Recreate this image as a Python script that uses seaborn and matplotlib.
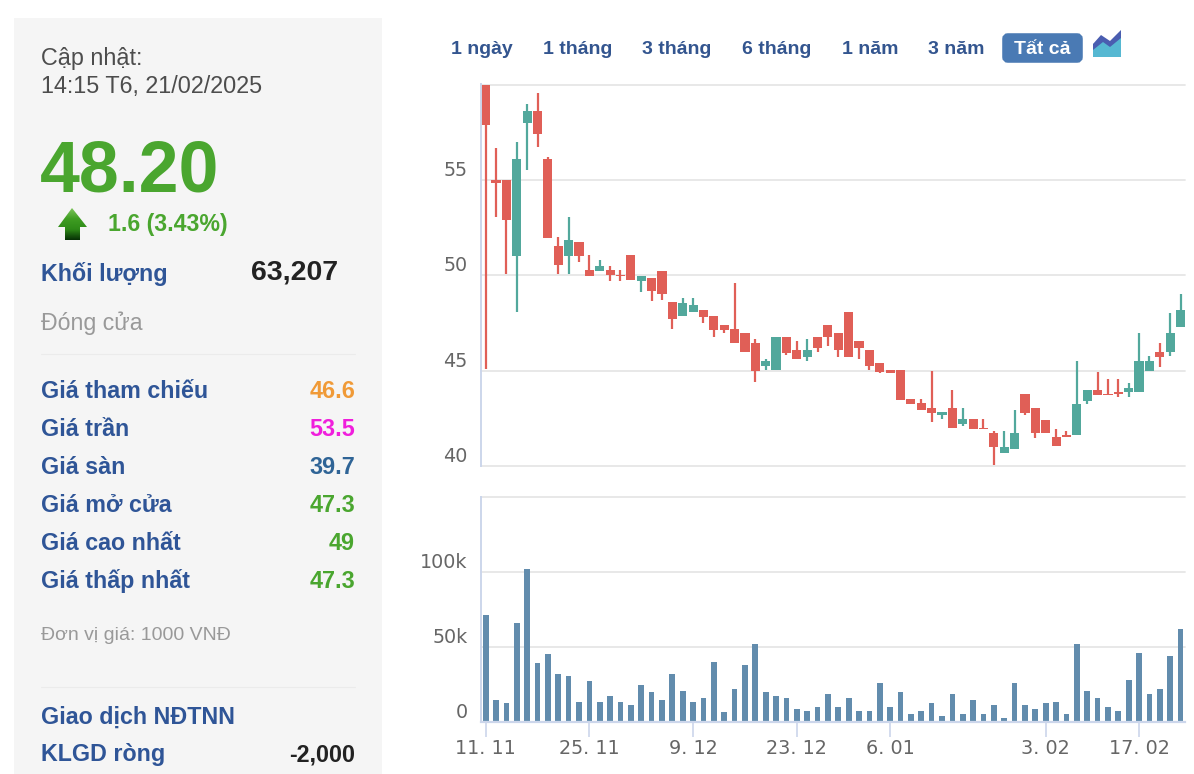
import numpy as np
import pandas as pd
import matplotlib
matplotlib.use("Agg")
import matplotlib.pyplot as plt
from matplotlib.patches import Rectangle, FancyBboxPatch, Polygon
import seaborn as sns

# ---------- data ----------
opens = [60.0, 55.0, 55.0, 51.03, 58.0, 58.6, 56.1, 51.55, 51.03, 51.73, 50.3, 50.25, 50.3, 50.03, 51.05, 49.7, 49.85,
         50.2, 48.62, 47.88, 48.08, 48.16, 47.87, 47.4, 47.2, 47.0, 46.45, 45.26, 45.05, 46.75, 46.08, 45.7, 46.75,
         47.4, 47.0, 48.08, 46.55, 46.08, 45.42, 45.05, 45.05, 43.5, 43.32, 43.04, 42.67, 43.04, 42.2, 42.48, 41.99,
         41.73, 40.7, 40.87, 43.8, 43.04, 42.4, 41.54, 41.63, 41.63, 43.43, 44.0, 43.8, 43.9, 43.9, 43.9, 45.0,
         45.96, 45.98, 47.3]
closes = [57.9, 54.85, 52.9, 56.1, 58.6, 57.4, 51.95, 50.55, 51.83, 51.0, 49.97, 50.5, 50.0, 49.97, 49.77, 49.95, 49.2,
          49.0, 47.7, 48.55, 48.43, 47.8, 47.13, 47.13, 46.47, 46.0, 44.97, 45.5, 46.75, 45.9, 45.6, 46.08, 46.2,
          46.75, 46.08, 45.7, 46.2, 45.25, 44.95, 44.86, 43.44, 43.23, 42.95, 42.76, 42.85, 42.0, 42.48, 41.92, 41.92,
          40.98, 40.98, 41.73, 42.76, 41.73, 41.73, 41.07, 41.54, 43.23, 44.0, 43.7, 43.7, 43.8, 44.1, 45.5, 45.5,
          45.7, 47.0, 48.2]
highs = [60.0, 56.7, 55.0, 57.0, 59.0, 59.55, 56.2, 52.0, 53.05, 51.73, 51.05, 50.8, 50.5, 50.3, 51.05, 49.95, 49.85,
         50.2, 48.62, 48.8, 48.8, 48.16, 47.87, 47.4, 49.58, 47.0, 46.65, 45.6, 46.75, 46.75, 46.55, 46.65, 46.75,
         47.4, 47.0, 48.08, 46.55, 46.08, 45.42, 45.05, 45.05, 43.5, 43.5, 45.0, 42.85, 44.0, 43.04, 42.48, 42.48,
         41.82, 41.82, 42.95, 43.8, 43.04, 42.4, 41.92, 41.82, 45.5, 44.0, 44.93, 44.55, 44.55, 44.37, 47.0, 45.77,
         46.43, 48.04, 49.0]
lows = [45.1, 53.07, 50.07, 48.07, 55.5, 56.75, 51.95, 50.07, 50.07, 50.7, 49.97, 50.25, 49.7, 49.7, 49.77, 49.13, 48.64,
        48.72, 47.2, 47.88, 48.08, 47.5, 46.75, 47.0, 46.47, 46.0, 44.4, 45.05, 45.05, 45.8, 45.6, 45.5, 46.0,
        46.28, 45.7, 45.7, 45.6, 45.05, 44.86, 44.86, 43.44, 43.23, 42.95, 42.3, 42.48, 42.0, 42.1, 41.92, 41.92,
        40.03, 40.7, 40.87, 42.67, 41.45, 41.73, 41.07, 41.54, 41.63, 43.23, 43.7, 43.7, 43.62, 43.62, 43.9, 45.0,
        45.2, 45.77, 47.3]
volumes_k = [71.6, 15.0, 12.5, 65.8, 101.8, 39.1, 45.2, 31.8, 30.6, 13.6, 27.1, 13.6, 17.2, 13.6, 11.2, 24.6, 19.7,
             15.0, 31.8, 21.0, 13.6, 16.1, 40.3, 6.5, 22.1, 37.8, 52.3, 19.7, 17.2, 16.1, 8.9, 7.6, 10.1, 18.6,
             10.1, 16.1, 7.6, 7.6, 25.7, 10.1, 19.7, 5.1, 7.6, 12.5, 4.0, 18.6, 5.1, 15.0, 5.1, 11.2, 2.7, 25.7,
             11.2, 8.7, 12.5, 13.6, 5.1, 52.3, 21.0, 16.1, 10.1, 7.6, 28.2, 46.3, 18.6, 22.1, 43.8, 62.0]
tick_index = [0, 10, 20, 30, 39, 54, 63]
tick_labels = ["11. 11", "25. 11", "9. 12", "23. 12", "6. 01", "3. 02", "17. 02"]
price_ticks = [40, 45, 50, 55, 60]
price_labels = ["40", "45", "50", "55", ""]
volume_ticks = [0, 50, 100, 150]
volume_labels = ["0", "50k", "100k", ""]
range_labels = ["1 ngày", "1 tháng", "3 tháng", "6 tháng", "1 năm", "3 năm"]
stat_labels = ["Giá tham chiếu", "Giá trần", "Giá sàn", "Giá mở cửa", "Giá cao nhất", "Giá thấp nhất"]
stat_values = ["46.6", "53.5", "39.7", "47.3", "49", "47.3"]

# ---------- style ----------
W, H = 1194, 774
sns.set_theme(style="white")
SANS = ["Liberation Sans", "DejaVu Sans"]
plt.rcParams["font.family"] = ["DejaVu Sans"]
RED, GREEN, VOL = "#E05F57", "#52A89C", "#628CAD"
AXIS, GRID, LABEL = "#CCD6EB", "#E6E6E6", "#666666"
BLUE, PGREEN = "#2F5597", "#4AA62F"

fig = plt.figure(figsize=(W / 100, H / 100), dpi=100, facecolor="white")


def px_axes(x0, y0, x1, y1):
    return fig.add_axes([x0 / W, 1 - y1 / H, (x1 - x0) / W, (y1 - y0) / H])


# ---------- page layer in pixel coordinates ----------
page = fig.add_axes([0, 0, 1, 1], zorder=-1)
page.set_xlim(0, W)
page.set_ylim(H, 0)
page.axis("off")
page.add_patch(Rectangle((14, 18), 368, H - 18, fc="#F5F5F5", ec="none"))


def say(x, y, s, size, color, weight="normal", ha="left"):
    page.text(x, y + 1, s, fontsize=size, color=color, fontweight=weight, ha=ha, va="center", family=SANS)


say(41, 58, "Cập nhật:", 16.85, "#4D4D4D")
say(41, 85, "14:15 T6, 21/02/2025", 16.85, "#4D4D4D")
say(40, 171, "48.20", 51.6, PGREEN, "bold")
say(108, 224, "1.6 (3.43%)", 16.7, PGREEN, "bold")
say(41, 273, "Khối lượng", 16.75, BLUE, "bold")
say(338, 271, "63,207", 20.5, "#222222", "bold", "right")
say(41, 322, "Đóng cửa", 16.7, "#999999")
page.plot([41, 355], [354, 354], color="#EBEBEB", lw=0.8)
stat_colors = ["#F09A37", "#F01EDC", "#2F6496", PGREEN, PGREEN, PGREEN]
for i, (lab, val, col) in enumerate(zip(stat_labels, stat_values, stat_colors)):
    y = 391 + i * 37.8
    say(41, y, lab, 16.75, BLUE, "bold")
    say(355, y, val, 16.85, col, "bold", "right")
say(41, 634, "Đơn vị giá: 1000 VNĐ", 14, "#999999")
page.plot([41, 355], [687, 687], color="#EBEBEB", lw=0.8)
say(41, 716, "Giao dịch NĐTNN", 16.75, BLUE, "bold")
say(41, 754, "KLGD ròng", 16.75, BLUE, "bold")
say(355, 754, "-2,000", 16.85, "#222222", "bold", "right")

# green arrow with a vertical gradient
arrow = Polygon([(72, 208), (87, 227), (80, 227), (80, 240), (65, 240), (65, 227), (58, 227)],
                transform=page.transData, fc="none", ec="none")
page.add_patch(arrow)
grad = np.linspace(0, 1, 64)[:, None]
cmap = matplotlib.colors.LinearSegmentedColormap.from_list(
    "arr", ["#7CC45A", "#3F9E22", "#2E8A18", "#063005"])
im = page.imshow(grad, cmap=cmap, extent=(58, 87, 240, 208), aspect="auto", zorder=2)
im.set_clip_path(arrow)
page.set_xlim(0, W)
page.set_ylim(H, 0)

# range selector
for x, lab in zip([451, 543, 642, 742, 842, 928], range_labels):
    say(x, 48.5, lab, 14, "#33558F", "bold")
page.add_patch(FancyBboxPatch((1005, 36), 75, 24, boxstyle="round,pad=0,rounding_size=3",
                              mutation_aspect=1, fc="#4A7AB4", ec="#4A7AB4", lw=4))
say(1042.5, 48.5, "Tất cả", 14, "white", "bold", "center")
page.add_patch(Polygon([(1093, 57), (1093, 44), (1104, 40), (1110, 45), (1121, 34), (1121, 57)], fc="#56B8D2", ec="none"))
page.add_patch(Polygon([(1093, 44), (1101, 35), (1110, 41), (1121, 30), (1121, 38), (1110, 47), (1103, 42), (1093, 50)],
                       fc="#4A5DB0", ec="none"))

# ---------- data frames ----------
days = np.arange(len(opens))
candles = pd.DataFrame({"day": days, "open": opens, "close": closes, "high": highs, "low": lows})
candles["bottom"] = candles[["open", "close"]].min(axis=1)
candles["body"] = (candles["open"] - candles["close"]).abs()
candles["up"] = candles["close"] > candles["open"]
volume = pd.DataFrame({"day": days, "volume": volumes_k})

XLIM = (-0.45, 67.43)

# ---------- candles ----------
ax = px_axes(481, 84, 1185, 466)
for flag, color in [(False, RED), (True, GREEN)]:
    part = candles[candles["up"] == flag]
    ax.vlines(part["day"], part["low"], part["high"], color=color, lw=1.6, zorder=1.5)
    sns.barplot(data=part, x="day", y="body", bottom=part["bottom"].to_numpy(), native_scale=True,
                color=color, saturation=1, width=0.88, errorbar=None, linewidth=0, ax=ax, zorder=2)

# ---------- volume ----------
vx = px_axes(481, 497, 1185, 722)
sns.barplot(data=volume, x="day", y="volume", native_scale=True, color=VOL, saturation=1, width=0.55,
            errorbar=None, linewidth=0, ax=vx, zorder=2)

for a, ticks, labels, ylim in [(ax, price_ticks, price_labels, (40, 60.03)),
                               (vx, volume_ticks, volume_labels, (0, 150))]:
    a.set_xlim(*XLIM)
    a.set_ylim(*ylim)
    a.set_xlabel("")
    a.set_ylabel("")
    a.set_yticks(ticks)
    a.set_yticklabels(labels, fontsize=13.8, color=LABEL, va="bottom")
    a.tick_params(axis="y", length=0, pad=9.5)
    a.grid(axis="y", color=GRID, lw=1.3)
    a.grid(axis="x", visible=False)
    for line in a.get_ygridlines():
        line.set_clip_on(False)
    a.set_axisbelow(True)
    a.set_facecolor("none")
    for side in ("top", "right", "bottom"):
        a.spines[side].set_visible(False)
    a.spines["left"].set_color(AXIS)
    a.spines["left"].set_linewidth(1.4)

ax.set_xticks([])
vx.spines["bottom"].set_visible(True)
vx.spines["bottom"].set_color(AXIS)
vx.spines["bottom"].set_linewidth(1.6)
vx.set_xticks(tick_index)
vx.set_xticklabels(tick_labels, fontsize=13.8, color=LABEL)
vx.tick_params(axis="x", length=10.8, width=1.2, color=AXIS, pad=1.5, bottom=True)

fig.savefig("out.png", dpi=100)
